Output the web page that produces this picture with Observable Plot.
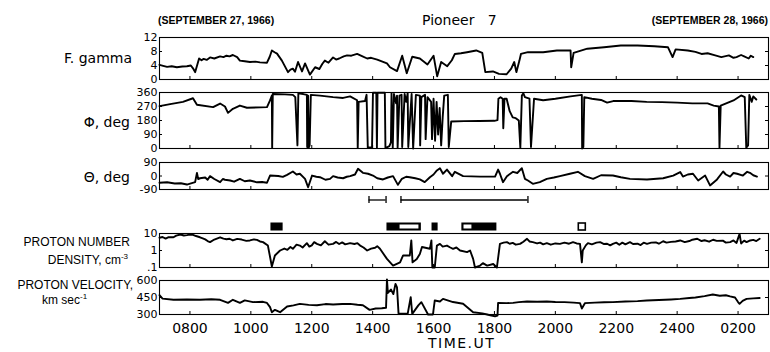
<!DOCTYPE html>
<html>
<head>
<meta charset="utf-8">
<script src="https://cdn.jsdelivr.net/npm/d3@7"></script>
<script src="https://cdn.jsdelivr.net/npm/@observablehq/plot@0.6"></script>
<style>
  html, body { margin: 0; padding: 0; background: white; }
  #chart { position: relative; width: 770px; height: 352px; overflow: hidden; background: white; }
  #chart svg { position: absolute; left: 0; }
  .lbl { position: absolute; white-space: pre; color: #000; line-height: 1; transform: translateY(-50%); }
  .cap { font-family: "Liberation Sans", Arial, sans-serif; font-size: 12px; }
  .hdr { font-family: "Liberation Sans", Arial, sans-serif; font-size: 10.5px; font-weight: bold; }
  .dv { font-family: "DejaVu Sans", sans-serif; font-size: 14px; }
  sup { font-size: 8px; vertical-align: 5px; line-height: 0; }
</style>
</head>
<body>
<div id="chart"></div>
<script>
// ---------------- DATA (time in hours UT; values > 24 are Sept 28) ----------------
const xDomain = [7, 27];
const xTicks = [8, 10, 12, 14, 16, 18, 20, 22, 24, 26];

const fGammaTicks = [0, 4, 8, 12];
const fGamma = [
  [7.0,4.2],[7.12,3.9],[7.25,3.6],[7.4,3.8],[7.57,3.5],[7.75,3.7],[7.9,3.8],[8.03,4.0],[8.1,3.2],[8.17,2.1],[8.3,6.0],
  [8.38,5.5],[8.45,5.9],[8.55,5.6],[8.66,6.3],[8.8,6.0],[8.99,6.6],[9.1,6.4],[9.2,6.8],[9.3,6.6],[9.41,7.0],[9.55,6.4],
  [9.64,5.4],[9.8,5.2],[9.97,5.0],[10.15,5.1],[10.3,4.9],[10.53,4.8],[10.62,6.5],[10.69,8.3],[10.78,7.8],
  [10.86,7.4],[11.02,5.4],[11.22,2.1],[11.3,2.8],[11.38,3.1],[11.45,2.2],[11.55,5.0],[11.68,2.3],[11.78,4.6],[11.94,1.4],
  [12.11,3.5],[12.25,3.0],[12.35,4.5],[12.43,5.4],[12.55,4.8],[12.7,6.3],[12.8,5.7],[12.9,6.0],[13.05,6.6],[13.16,6.9],
  [13.3,6.8],[13.49,7.3],[13.65,6.7],[13.82,6.0],[13.95,6.2],[14.15,5.7],[14.3,5.2],[14.47,4.6],[14.57,3.5],[14.8,2.4],
  [14.97,6.8],[15.12,1.8],[15.3,6.5],[15.55,6.0],[15.8,4.3],[16.0,6.8],[16.12,0.9],[16.25,5.0],[16.45,3.8],[16.6,5.5],
  [16.7,7.3],[16.9,7.5],[17.1,7.8],[17.4,8.3],[17.6,7.6],[17.7,2.1],[17.95,2.3],[18.15,1.6],[18.4,1.5],[18.55,3.1],
  [18.65,5.0],[18.72,2.1],[18.82,5.4],[18.87,7.3],[19.1,7.8],[19.6,7.8],[20.05,8.3],[20.5,8.3],[20.52,3.5],[20.6,7.6],
  [21.05,8.8],[21.6,9.2],[22.15,9.7],[22.7,9.7],[23.25,9.5],[23.7,9.2],[23.85,6.4],[23.95,8.6],[24.35,8.3],[24.6,7.9],
  [24.8,7.3],[25.0,7.5],[25.25,6.9],[25.45,6.4],[25.7,6.9],[25.85,6.2],[25.95,6.4],[26.1,7.0],[26.2,6.6],[26.35,6.0],
  [26.42,6.8],[26.5,6.4]
];

const phiTicks = [0, 90, 180, 270, 360];
const phi = [
  [7.0,272],[7.35,285],[7.77,300],[8.1,323],[8.23,281],[8.76,266],[8.99,289],[9.15,270],[9.25,229],[9.41,255],
  [9.64,276],[9.87,262],[10.53,266],[10.63,309],[10.69,341],[10.70,5],[10.72,350],[11.12,348],[11.38,345],[11.46,330],
  [11.5,150],[11.53,20],[11.56,355],[11.72,350],[11.84,345],[11.85,10],[11.88,340],[11.9,5],[11.93,20],[11.97,345],
  [12.27,340],[12.7,330],[13.03,325],[13.26,335],[13.49,310],[13.51,3],[13.54,300],[13.75,305],[13.8,345],[13.84,5],
  [13.98,8],[14.01,358],[14.12,358],[14.14,5],[14.16,358],[14.4,358],[14.42,3],[14.55,15],[14.6,40],[14.62,355],
  [14.66,5],[14.7,350],[14.77,290],[14.8,340],[14.82,5],[14.88,340],[14.95,345],[14.97,10],[15.05,350],[15.1,300],
  [15.15,355],[15.17,10],[15.28,350],[15.33,0],[15.42,345],[15.55,340],[15.56,20],[15.6,330],[15.72,345],[15.74,60],
  [15.8,330],[15.92,300],[15.95,60],[16.0,320],[16.05,50],[16.1,300],[16.15,90],[16.2,260],[16.25,20],[16.3,200],
  [16.35,340],[16.47,345],[16.5,10],[16.58,174],[17.0,176],[17.5,177],[18.0,178],[18.1,182],[18.13,320],[18.2,330],
  [18.27,320],[18.29,130],[18.33,320],[18.4,320],[18.5,240],[18.6,200],[18.7,195],[18.8,180],[18.85,5],[18.9,340],
  [18.95,355],[19.0,330],[19.15,320],[19.2,10],[19.3,320],[19.6,310],[20.0,320],[20.5,335],[20.87,345],[20.88,0],
  [20.92,10],[20.95,330],[21.2,320],[21.5,312],[21.7,295],[21.9,305],[22.5,305],[23.0,300],[23.5,298],[24.0,295],
  [24.5,290],[25.0,290],[25.2,276],[25.37,270],[25.39,5],[25.43,275],[25.85,309],[26.1,341],[26.22,330],[26.27,5],
  [26.33,20],[26.37,345],[26.45,300],[26.5,335],[26.6,315]
];

const thetaTicks = [-90, 0, 90];
const theta = [
  [7.0,-45],[7.25,-42],[7.5,-50],[7.7,-48],[7.9,-57],[8.17,-41],[8.23,21],[8.27,-20],[8.33,-15],[8.5,-10],[8.58,-25],
  [8.66,-1],[8.8,-20],[8.99,-41],[9.08,-20],[9.15,-25],[9.32,-30],[9.45,-38],[9.64,-19],[9.8,-35],[9.97,-30],[10.2,-42],
  [10.37,-40],[10.53,-45],[10.63,3],[10.9,0],[11.05,-6],[11.19,8],[11.38,30],[11.5,10],[11.61,15],[11.78,-19],
  [11.88,-75],[12.01,3],[12.15,-5],[12.27,-8],[12.45,-25],[12.6,-19],[12.7,-1],[12.85,-10],[13.03,-15],[13.15,-5],
  [13.26,-1],[13.42,10],[13.52,48],[13.68,21],[13.85,15],[14.01,3],[14.15,-15],[14.34,-23],[14.5,-10],[14.67,-1],
  [14.83,-59],[14.96,-19],[15.1,-5],[15.22,-8],[15.4,-15],[15.55,-23],[15.71,-41],[15.88,-8],[16.0,10],[16.11,37],
  [16.21,52],[16.31,15],[16.44,43],[16.61,-1],[16.7,28],[16.97,-1],[17.53,-4],[18.02,-4],[18.12,43],[18.18,15],
  [18.28,-41],[18.41,-1],[18.61,28],[18.75,20],[18.9,52],[19.0,-19],[19.1,-30],[19.26,-52],[19.49,-41],[19.72,-19],
  [19.95,-10],[20.15,-1],[20.48,15],[20.74,28],[20.97,-1],[21.24,-19],[21.5,5],[21.89,3],[22.15,-8],[22.45,-19],
  [23.01,-23],[23.54,-15],[23.87,3],[24.1,26],[24.19,-4],[24.35,10],[24.52,15],[24.69,-30],[24.92,3],[25.08,-63],
  [25.31,-23],[25.51,30],[25.6,10],[25.74,-4],[25.85,20],[25.97,15],[26.16,3],[26.3,28],[26.39,21],[26.5,5],[26.62,-4]
];

const densityTicks = [0.1, 1, 10];
const density = [
  [7.0,5.6],[7.1,6.2],[7.2,5.0],[7.3,6.1],[7.46,6.0],[7.55,7.5],[7.69,8.7],[7.8,7.6],[7.9,8.0],[8.0,8.6],[8.1,8.3],
  [8.2,7.1],[8.33,6.0],[8.42,5.2],[8.5,4.5],[8.58,3.6],[8.66,3.1],[8.8,4.4],[8.99,6.0],[9.1,5.0],[9.2,4.6],[9.3,4.9],
  [9.41,3.9],[9.55,4.8],[9.7,4.4],[9.85,3.7],[9.97,3.9],[10.1,4.5],[10.2,4.2],[10.3,3.4],[10.4,3.1],[10.56,1.95],
  [10.69,0.115],[10.79,0.51],[10.96,1.0],[11.1,1.3],[11.2,1.1],[11.3,1.6],[11.38,1.26],[11.5,2.2],[11.61,1.95],
  [11.7,1.5],[11.84,2.7],[11.92,1.7],[12.0,2.0],[12.08,3.1],[12.17,2.45],[12.3,2.0],[12.43,3.5],[12.55,2.2],[12.7,2.45],
  [12.8,3.2],[12.9,2.4],[13.0,3.0],[13.1,2.3],[13.26,2.7],[13.4,2.4],[13.5,2.7],[13.59,1.95],[13.7,1.5],[13.82,1.0],
  [13.95,1.3],[14.08,1.45],[14.15,1.8],[14.24,1.26],[14.47,0.32],[14.67,0.13],[14.9,0.2],[15.0,0.51],[15.22,0.51],
  [15.27,3.9],[15.31,0.2],[15.45,0.32],[15.55,0.63],[15.62,1.6],[15.88,1.26],[15.93,3.9],[15.96,0.1],[16.04,0.1],
  [16.11,1.95],[16.21,2.45],[16.3,1.7],[16.44,1.95],[16.55,1.5],[16.64,1.26],[16.75,1.5],[16.87,1.0],[17.1,0.8],
  [17.2,1.0],[17.3,0.32],[17.36,0.1],[17.53,0.13],[17.62,0.18],[17.76,0.13],[17.96,0.16],[18.08,0.1],[18.18,2.45],
  [18.3,2.9],[18.41,3.1],[18.5,2.5],[18.6,2.8],[18.7,2.2],[18.84,2.45],[18.95,3.3],[19.07,4.9],[19.15,3.4],[19.26,3.1],
  [19.4,2.6],[19.5,2.9],[19.6,2.3],[19.72,2.7],[19.85,2.2],[20.0,2.6],[20.15,2.45],[20.3,2.9],[20.45,2.5],[20.58,3.1],
  [20.7,2.6],[20.81,2.45],[20.87,0.2],[20.9,1.0],[21.0,2.0],[21.07,2.7],[21.2,2.3],[21.35,2.9],[21.47,3.1],[21.6,2.4],
  [21.7,2.5],[21.8,2.0],[21.89,2.45],[22.0,2.9],[22.1,2.2],[22.2,2.9],[22.3,2.3],[22.45,3.1],[22.55,2.4],[22.7,2.5],
  [22.8,2.1],[22.9,2.9],[23.01,2.45],[23.15,2.9],[23.3,3.0],[23.4,2.5],[23.54,3.5],[23.65,2.9],[23.8,3.2],[23.95,3.4],
  [24.1,3.9],[24.25,3.1],[24.4,3.6],[24.5,4.3],[24.66,4.9],[24.8,3.6],[24.9,4.0],[25.05,3.3],[25.18,4.3],[25.3,3.7],
  [25.5,3.8],[25.6,2.9],[25.74,3.1],[25.85,3.9],[25.95,2.8],[26.05,9.5],[26.1,2.6],[26.2,3.8],[26.28,3.1],[26.4,3.9],
  [26.5,4.2],[26.6,3.6],[26.71,4.9]
];

const velocityTicks = [300, 450, 600];
const velocity = [
  [7.0,470],[7.1,440],[7.46,430],[7.9,432],[8.33,430],[8.7,434],[8.99,430],[9.25,403],[9.41,430],[9.64,403],[9.8,425],
  [10.07,409],[10.4,412],[10.53,402],[10.63,365],[10.69,320],[10.79,341],[10.96,320],[11.19,371],[11.4,380],[11.61,394],
  [11.9,385],[12.17,382],[12.45,392],[12.7,388],[13.0,392],[13.26,394],[13.5,386],[13.68,382],[13.9,341],[14.1,353],
  [14.3,355],[14.44,360],[14.47,610],[14.5,490],[14.6,520],[14.68,480],[14.75,570],[14.8,540],[14.85,310],[15.15,306],
  [15.25,453],[15.3,306],[15.5,380],[15.6,409],[15.82,300],[15.98,300],[16.04,424],[16.21,415],[16.31,438],[16.64,410],
  [16.97,395],[17.3,320],[17.6,310],[17.76,300],[17.9,290],[18.02,285],[18.1,290],[18.12,403],[18.4,400],[18.61,403],
  [18.8,409],[19.07,415],[19.4,412],[19.72,415],[20.0,410],[20.3,409],[20.6,405],[20.81,400],[20.87,353],[20.97,400],
  [21.3,405],[21.6,408],[21.89,409],[22.3,415],[22.7,418],[23.0,424],[23.4,428],[23.8,433],[24.1,438],[24.4,445],
  [24.6,450],[24.9,462],[25.17,476],[25.4,465],[25.6,470],[25.74,460],[25.9,450],[26.0,410],[26.05,394],[26.15,420],
  [26.28,438],[26.5,442],[26.71,445]
];

// intervals and event markers (hours UT)
const spanStarts = [13.88, 14.93];
const spanEnds = [14.44, 19.1];
const eventStarts = [10.66, 14.47, 15.95, 16.93];
const eventEnds = [11.06, 15.6, 16.15, 18.08];
const eventGapStarts = [14.9, 17.0];
const eventGapEnds = [15.52, 17.26];
const openEventStarts = [20.77];
const openEventEnds = [21.0];

// ---------------- DRAWING ----------------
const W = 770, ML = 159, MR = 2;
const frameW = W - ML - MR;
const chart = document.getElementById("chart");
const fmtHour = h => String((h > 24 ? h - 24 : h) * 100).padStart(4, "0");
const baseStyle = {fontFamily: "DejaVu Sans, sans-serif", fontSize: "11px", background: "none", overflow: "visible", color: "black"};

function panel({data, yDomain, yTicks, yType = "linear", tickFormat = d => String(d), frameTop, frameH, xAxis = false}) {
  const mt = 8;
  const mb = xAxis ? 352 - frameTop - frameH : 6;
  const marks = [
    Plot.frame({stroke: "black", strokeWidth: 1.1}),
    Plot.ruleX(xTicks, {x: d => d, insetTop: frameH - 3, stroke: "black", strokeWidth: 1}),
    Plot.ruleY(yTicks, {y: d => d, insetRight: frameW - 3, stroke: "black", strokeWidth: 1}),
    Plot.ruleY(yTicks, {y: d => d, insetLeft: frameW - 3, stroke: "black", strokeWidth: 1}),
    Plot.axisY(yTicks, {tickSize: 0, tickPadding: 2, label: null, tickFormat, fontSize: 11}),
    Plot.line(data, {x: d => d[0], y: d => d[1], stroke: "black", strokeWidth: 1.9, strokeLinejoin: "round"})
  ];
  if (xAxis) marks.push(Plot.axisX(xTicks, {tickSize: 0, tickPadding: 9, label: null, tickFormat: fmtHour, fontSize: 14}));
  const svg = Plot.plot({
    width: W, height: mt + frameH + mb,
    marginLeft: ML, marginRight: MR, marginTop: mt, marginBottom: mb,
    style: baseStyle,
    x: {domain: xDomain, axis: xAxis ? undefined : null},
    y: {type: yType, domain: yDomain},
    marks
  });
  svg.style.top = (frameTop - mt) + "px";
  chart.appendChild(svg);
}

panel({data: fGamma, yDomain: [0, 12], yTicks: fGammaTicks, frameTop: 37, frameH: 42});
panel({data: phi, yDomain: [0, 360], yTicks: phiTicks, frameTop: 92, frameH: 56});
panel({data: theta, yDomain: [-90, 90], yTicks: thetaTicks, frameTop: 162, frameH: 27});
panel({data: density, yDomain: [0.1, 10], yTicks: densityTicks, yType: "log",
       tickFormat: d => d === 0.1 ? ".1" : String(d), frameTop: 233, frameH: 34});
panel({data: velocity, yDomain: [300, 600], yTicks: velocityTicks, frameTop: 280, frameH: 34, xAxis: true});

// interval / event marker strip
{
  const spans = spanStarts.map((s, i) => ({start: s, end: spanEnds[i], row: "span"}));
  const caps = spans.flatMap(d => [{x: d.start, row: "span"}, {x: d.end, row: "span"}]);
  const events = eventStarts.map((s, i) => ({start: s, end: eventEnds[i], row: "event"}));
  const gaps = eventGapStarts.map((s, i) => ({start: s, end: eventGapEnds[i], row: "event"}));
  const opens = openEventStarts.map((s, i) => ({start: s, end: openEventEnds[i], row: "event"}));
  const svg = Plot.plot({
    width: W, height: 42, marginLeft: ML, marginRight: MR, marginTop: 0, marginBottom: 0,
    style: baseStyle,
    x: {domain: xDomain, axis: null},
    y: {type: "band", domain: ["span", "event"], range: [-4, 50], padding: 0, axis: null},
    marks: [
      Plot.ruleY(spans, {x1: "start", x2: "end", y: "row", stroke: "black", strokeWidth: 1.3}),
      Plot.tickX(caps, {x: "x", y: "row", insetTop: 10, insetBottom: 10, stroke: "black", strokeWidth: 1.3}),
      Plot.barX(events, {x1: "start", x2: "end", y: "row", fill: "black", insetTop: 9.5, insetBottom: 9.5}),
      Plot.barX(gaps, {x1: "start", x2: "end", y: "row", fill: "white", insetTop: 11.5, insetBottom: 11.5}),
      Plot.barX(opens, {x1: "start", x2: "end", y: "row", fill: "white", stroke: "black", strokeWidth: 1.6, insetTop: 10, insetBottom: 10})
    ]
  });
  svg.style.top = "190px";
  chart.appendChild(svg);
}

// ---------------- TEXT ----------------
const labels = [
  {html: "(SEPTEMBER 27, 1966)", cls: "hdr", left: 158, y: 20},
  {html: "Pioneer&nbsp;&nbsp;&nbsp;7", cls: "dv", left: 422, y: 20},
  {html: "(SEPTEMBER 28, 1966)", cls: "hdr", right: 768, y: 20},
  {html: "F. gamma", cls: "dv", right: 132, y: 58},
  {html: "Φ, deg", cls: "dv", right: 130, y: 122},
  {html: "Θ, deg", cls: "dv", right: 130, y: 177},
  {html: "PROTON NUMBER", cls: "cap", right: 130, y: 242},
  {html: "DENSITY, cm<sup>-3</sup>", cls: "cap", right: 128, y: 260},
  {html: "PROTON VELOCITY,", cls: "cap", right: 133, y: 285},
  {html: "km sec<sup>-1</sup>", cls: "cap", left: 42, y: 300},
  {html: "TIME.UT", cls: "dv", left: 428, y: 343, extra: "letter-spacing:1.5px;"}
];
for (const l of labels) {
  const d = document.createElement("div");
  d.className = "lbl " + l.cls;
  d.innerHTML = l.html;
  let s = `top:${l.y}px;` + (l.extra || "");
  if (l.left !== undefined) s += `left:${l.left}px;`;
  else s += `right:${W - l.right}px;text-align:right;`;
  d.setAttribute("style", s);
  chart.appendChild(d);
}
</script>
</body>
</html>
